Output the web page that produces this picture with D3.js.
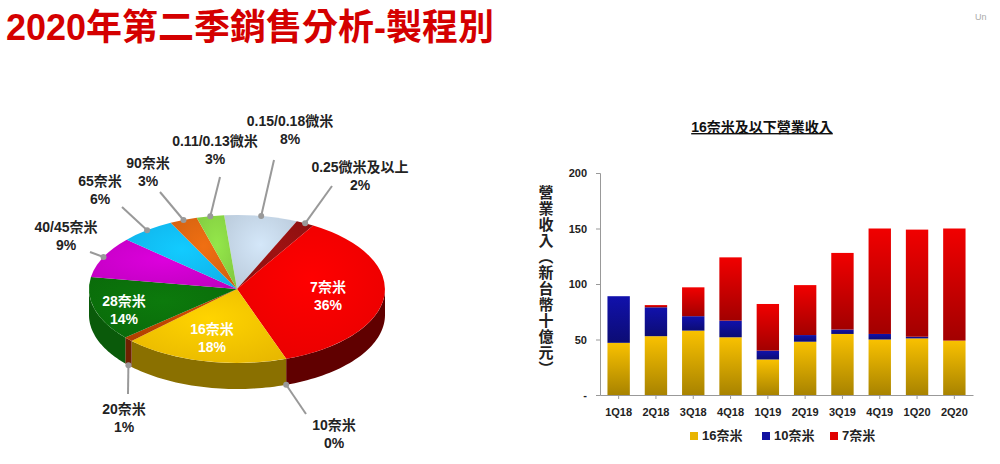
<!DOCTYPE html>
<html><head><meta charset="utf-8">
<script src="https://cdn.jsdelivr.net/npm/d3@7"></script>
<style>
body{margin:0;background:#fff;font-family:Arial,"Liberation Sans","Noto Sans CJK TC",sans-serif}
</style></head><body>
<svg id="c" width="1000" height="464"></svg>
<script>
// pie data (2Q20 share by node)
const nodes = ["0.15/0.18微米","0.25微米及以上","7奈米","10奈米","16奈米","20奈米","28奈米","40/45奈米","65奈米","90奈米","0.11/0.13微米"]
const shares = [8,2,36,0,18,1,14,9,6,3,3]
const topColors = ["#b8c8d8","#8a1010","#e80000","#1a1a7a","#e8b800","#b04000","#0a6a0a","#c000c0","#10b0e8","#d06010","#80c840"]
const sideColors = ["#6a7c8c","#500000","#600000","#101040","#8a7000","#702000","#0a5a0a","#700070","#0a7090","#803000","#4a7a20"]

// bar data (NT$ billions)
const quarters = ["1Q18","2Q18","3Q18","4Q18","1Q19","2Q19","3Q19","4Q19","1Q20","2Q20"]
const rev16 = [47,53,58,52,32,48,55,50,51,49]
const rev10 = [42,26,13,15,8,6,4,5,1.5,0]
const rev7 = [0,2,26,57,42,45,69,95,96.5,101]
const seriesNames = ["16奈米","10奈米","7奈米"]
const seriesColors = ["#e8b400","#1010a0","#e00000"]

const svg = d3.select("#c")
const font = 'Arial,"Noto Sans CJK TC",sans-serif'

svg.append("text").attr("x",6).attr("y",40).attr("fill","#d40000")
  .attr("font-size",36).attr("font-weight","bold").attr("font-family",font)
  .text("2020年第二季銷售分析-製程別")
svg.append("text").attr("x",975).attr("y",20).attr("fill","#aaa").attr("font-size",9).text("Un")

// ---------- 3D pie ----------
const cx = 237, cy = 289, rx = 148, ry = 74, depth = 26
const startA = -5 * Math.PI / 180
const pie = d3.pie().sort(null).startAngle(startA).endAngle(startA + 2 * Math.PI)
const arcs = pie(shares)
const pt = (a, dy = 0) => [cx + rx * Math.sin(a), cy - ry * Math.cos(a) + dy]

const defs = svg.append("defs")
arcs.forEach((d, i) => {
  const g = defs.append("radialGradient").attr("id", "g" + i).attr("cx", "50%").attr("cy", "40%").attr("r", "70%")
  g.append("stop").attr("offset", "0%").attr("stop-color", d3.color(topColors[i]).brighter(0.4))
  g.append("stop").attr("offset", "100%").attr("stop-color", topColors[i])
})

const gp = svg.append("g")
// side walls: visible where the rim faces the viewer (a in [PI/2, 3PI/2])
arcs.forEach((d, i) => {
  let a0 = Math.max(d.startAngle, Math.PI / 2), a1 = Math.min(d.endAngle, 3 * Math.PI / 2)
  if (a1 <= a0) return
  const n = 40, top = d3.range(n + 1).map(k => pt(a0 + (a1 - a0) * k / n))
  const bot = top.map(([x, y]) => [x, y + depth]).reverse()
  gp.append("path").attr("d", d3.line()(top.concat(bot)) + "Z").attr("fill", sideColors[i])
})
// top face
const arc = d3.arc().innerRadius(0).outerRadius(1)
gp.append("g").attr("transform", `translate(${cx},${cy}) scale(${rx},${ry})`)
  .selectAll("path").data(arcs).join("path")
  .attr("d", arc).attr("fill", (d, i) => `url(#g${i})`)

// labels
const outLabels = {
  "0.15/0.18微米": [290, 126, 274, 160],
  "0.25微米及以上": [360, 172, 332, 186],
  "0.11/0.13微米": [215, 146, 220, 177],
  "90奈米": [148, 168, 160, 192],
  "65奈米": [100, 186, 122, 207],
  "40/45奈米": [66, 232, 90, 252],
  "20奈米": [124, 414, 128, 394],
  "10奈米": [334, 430, 306, 414]
}
const inLabels = { "7奈米": [328, 292], "16奈米": [212, 334], "28奈米": [124, 306] }
const tf = (sel) => sel.attr("font-family", font).attr("font-weight", "bold").attr("font-size", 14).attr("text-anchor", "middle")
arcs.forEach((d, i) => {
  const name = nodes[i], pct = shares[i] + "%"
  if (outLabels[name]) {
    const [tx, ty, lx, ly] = outLabels[name]
    const mid = (d.startAngle + d.endAngle) / 2
    const front = Math.cos(mid) < 0
    const [px, py] = pt(mid, front ? depth : 0)
    svg.append("line").attr("x1", px).attr("y1", py).attr("x2", lx).attr("y2", ly).attr("stroke", "#999").attr("stroke-width", 2)
    svg.append("circle").attr("cx", px).attr("cy", py).attr("r", 3).attr("fill", "#999")
    svg.append("text").attr("x", tx).attr("y", ty).call(tf).attr("fill", "#222").text(name)
    svg.append("text").attr("x", tx).attr("y", ty + 18).call(tf).attr("fill", "#222").text(pct)
  } else if (inLabels[name]) {
    const [tx, ty] = inLabels[name]
    svg.append("text").attr("x", tx).attr("y", ty).call(tf).attr("fill", "#fff").text(name)
    svg.append("text").attr("x", tx).attr("y", ty + 18).call(tf).attr("fill", "#fff").text(pct)
  }
})

// ---------- stacked bars ----------
const bx0 = 600, bx1 = 973, by0 = 395, by1 = 173
const x = d3.scaleBand().domain(quarters).range([bx0, bx1]).paddingInner(0.4).paddingOuter(0.2)
const y = d3.scaleLinear().domain([0, 200]).range([by0, by1])
const rows = quarters.map((q, i) => ({ q, s0: rev16[i], s1: rev10[i], s2: rev7[i] }))
const stack = d3.stack().keys(["s0", "s1", "s2"])(rows)

stack.forEach((layer, k) => {
  const gr = defs.append("linearGradient").attr("id", "b" + k).attr("x1", 0).attr("x2", 0).attr("y1", 0).attr("y2", 1)
  gr.append("stop").attr("offset", "0%").attr("stop-color", d3.color(seriesColors[k]).brighter(0.2))
  gr.append("stop").attr("offset", "100%").attr("stop-color", d3.color(seriesColors[k]).darker(0.9))
  svg.append("g").selectAll("rect").data(layer).join("rect")
    .attr("x", d => x(d.data.q)).attr("width", x.bandwidth())
    .attr("y", d => y(d[1])).attr("height", d => y(d[0]) - y(d[1]))
    .attr("fill", `url(#b${k})`)
})

const ya = svg.append("g").attr("transform", `translate(${bx0},0)`)
  .call(d3.axisLeft(y).tickValues([0, 50, 100, 150, 200]).tickSize(4).tickFormat(v => v === 0 ? "-" : v))
ya.selectAll("text").attr("font-family", font).attr("font-weight", "bold").attr("font-size", 11).attr("fill", "#222").attr("dx", "-6")
const xa = svg.append("g").attr("transform", `translate(0,${by0})`).call(d3.axisBottom(x).tickSize(4).tickSizeOuter(0))
xa.selectAll("text").attr("font-family", font).attr("font-weight", "bold").attr("font-size", 11).attr("fill", "#222").attr("dy", "1.3em")
svg.selectAll(".domain, .tick line").attr("stroke", "#999")

svg.append("text").attr("x", 762).attr("y", 132).call(tf).attr("font-size", 14).attr("fill", "#111")
  .attr("text-decoration", "underline").text("16奈米及以下營業收入")
const ylab = "營業收入(新台幣十億元)"
svg.append("g").selectAll("text").data(Array.from(ylab)).join("text")
  .attr("x", 546).attr("y", (d, i) => 198 + i * 16).call(tf).attr("font-size", 15).attr("fill", "#222")
  .text(d => d === "(" ? "︵" : d === ")" ? "︶" : d)

const lg = svg.append("g").attr("transform", "translate(690,440)")
seriesNames.forEach((n, k) => {
  const ox = [0, 72, 140][k]
  lg.append("rect").attr("x", ox).attr("y", -8).attr("width", 8).attr("height", 8).attr("fill", seriesColors[k])
  lg.append("text").attr("x", ox + 12).attr("y", 0).attr("font-family", font).attr("font-weight", "bold").attr("font-size", 13).attr("fill", "#222").text(n)
})
</script></body></html>
